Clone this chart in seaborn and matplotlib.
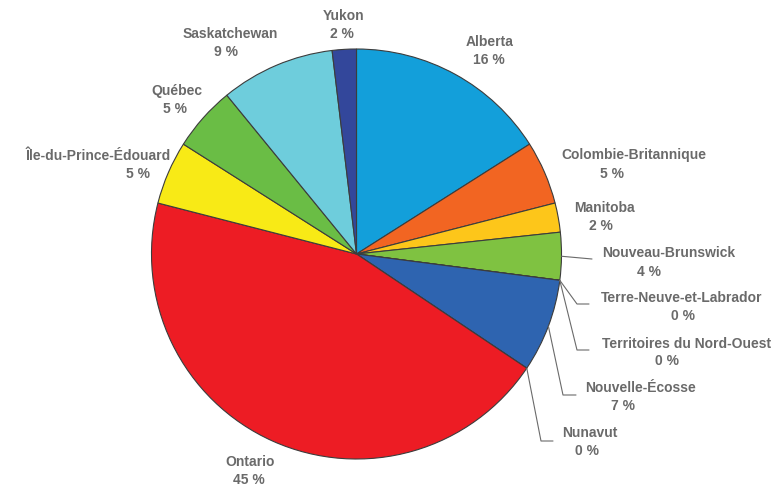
import numpy as np
import matplotlib
matplotlib.use("Agg")
import matplotlib.pyplot as plt
import seaborn as sns

# Share of total by province / territory (percent), clockwise from 12 o'clock
provinces = [
    "Alberta", "Colombie-Britannique", "Manitoba", "Nouveau-Brunswick",
    "Terre-Neuve-et-Labrador", "Territoires du Nord-Ouest", "Nouvelle-Écosse",
    "Nunavut", "Ontario", "Île-du-Prince-Édouard", "Québec", "Saskatchewan", "Yukon",
]
shares = [16.0, 5.0, 2.3, 3.75, 0.0, 0.0, 7.35, 0.0, 44.6, 5.0, 5.1, 9.0, 1.9]
colors = [
    "#139fda", "#f26522", "#fdc61a", "#7fc241", "#2e64b0", "#2e64b0", "#2e64b0",
    "#ed1c24", "#ed1c24", "#f8ea16", "#6abd45", "#6ecddc", "#33479b",
]

# Label placement in pixel space: (name_x, name_baseline, pct_x, pct_baseline)
label_pos = {
    "Alberta": (490, 46, 489, 64),
    "Colombie-Britannique": (634, 159, 612, 178),
    "Manitoba": (604, 212, 601, 230),
    "Nouveau-Brunswick": (669, 257, 649, 276),
    "Terre-Neuve-et-Labrador": (682, 302, 683, 320),
    "Territoires du Nord-Ouest": (687, 348, 667, 365),
    "Nouvelle-Écosse": (641, 392, 623, 410),
    "Nunavut": (590, 437, 587, 455),
    "Ontario": (250, 466, 249, 484),
    "Île-du-Prince-Édouard": (98, 160, 138, 178),
    "Québec": (177, 95, 175, 113),
    "Saskatchewan": (230, 38, 226, 56),
    "Yukon": (344, 20, 342, 38),
}
# Leader lines: anchor on the wedge rim -> elbow -> end (pixel space)
leaders = {
    "Nouveau-Brunswick": [(592, 259)],
    "Terre-Neuve-et-Labrador": [(577, 304), (589, 304)],
    "Territoires du Nord-Ouest": [(577, 350), (589, 350)],
    "Nouvelle-Écosse": [(563, 395), (576, 395)],
    "Nunavut": [(541, 441), (553, 441)],
}

W, H = 783, 487
sns.set_theme(style="white")
plt.rcParams["font.family"] = ["Liberation Sans", "DejaVu Sans"]

fig = plt.figure(figsize=(W / 100, H / 100), dpi=100)
ax = fig.add_axes([0, 0, 1, 1])

cx, cy, r = 356.5, H - 254, 205
ax.pie(
    shares, colors=colors, startangle=90, counterclock=False,
    center=(cx, cy), radius=r,
    wedgeprops=dict(edgecolor="#3c3c3c", linewidth=0.8),
)
ax.set_xlim(0, W)
ax.set_ylim(0, H)
ax.set_aspect("equal")
ax.axis("off")

text_color = "#6a6a6a"
total = sum(shares)
cum = 0.0
for name, val in zip(provinces, shares):
    mid = cum + val / 2
    cum += val
    theta = np.deg2rad(90 - 360 * mid / total)
    nx, ny, px, py = label_pos[name]
    ax.text(nx, H - ny, name, ha="center", va="baseline", fontsize=10,
            fontweight="bold", color=text_color)
    ax.text(px, H - py, f"{round(val):.0f} %", ha="center", va="baseline",
            fontsize=10, fontweight="bold", color=text_color)
    if name in leaders:
        pts = [(cx + r * np.cos(theta), cy + r * np.sin(theta))]
        pts += [(x, H - y) for x, y in leaders[name]]
        xs, ys = zip(*pts)
        ax.plot(xs, ys, color="#6a6a6a", linewidth=0.8)

fig.savefig("out.png", dpi=100)
